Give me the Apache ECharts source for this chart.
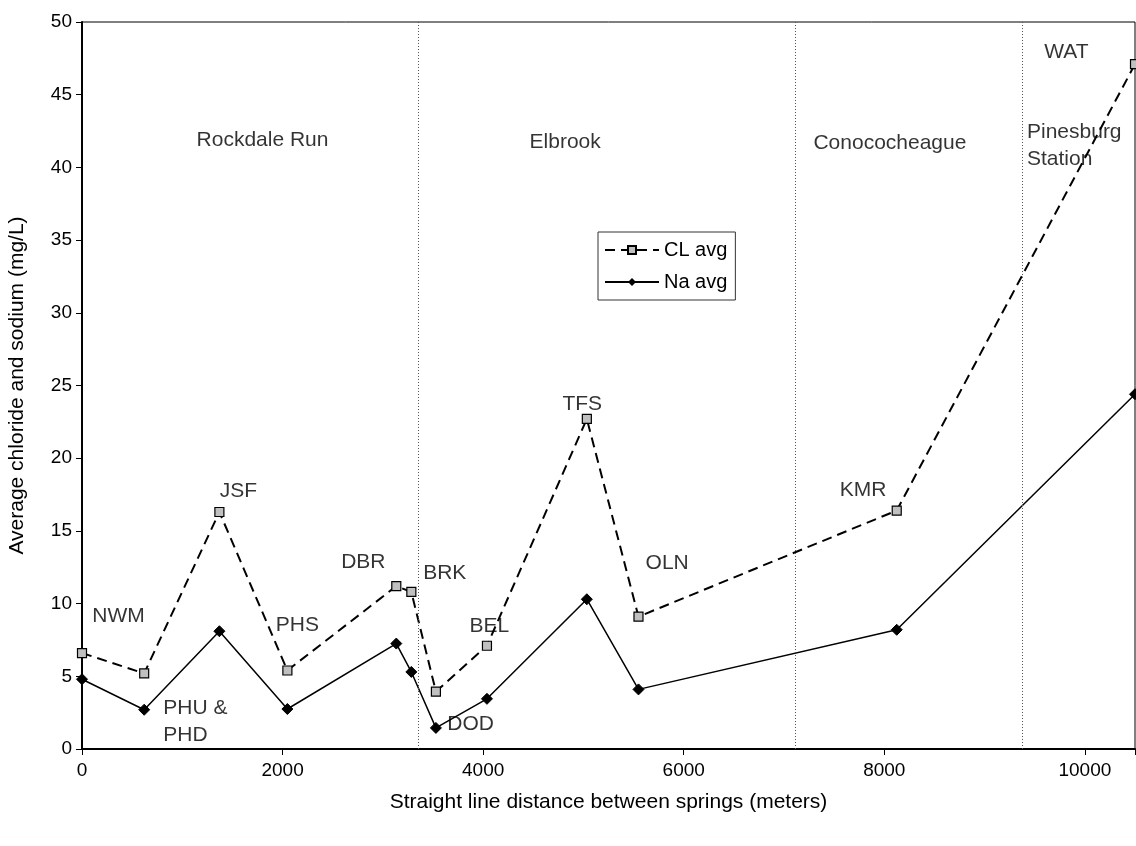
<!DOCTYPE html>
<html>
<head>
<meta charset="utf-8">
<script src="https://cdn.jsdelivr.net/npm/echarts@6/dist/echarts.min.js"></script>
<style>
html,body{margin:0;padding:0;background:#fff;}
#chart{width:1136px;height:846px;}
</style>
</head>
<body>
<div id="chart"></div>
<script>
// Spring distances (m) and averages (mg/L)
const springs = ['NWM','PHU','JSF','PHS','DBR','BRK','DOD','BEL','TFS','OLN','KMR','WAT'];
const distance = [0, 620, 1370, 2048, 3134, 3284, 3529, 4038, 5034, 5549, 8124, 10500];
const clAvg = [6.6, 5.2, 16.3, 5.4, 11.2, 10.8, 3.95, 7.1, 22.7, 9.1, 16.4, 47.1];
const naAvg = [4.8, 2.7, 8.1, 2.75, 7.25, 5.3, 1.45, 3.45, 10.3, 4.1, 8.2, 24.4];

// Formation boundaries (m)
const boundaries = [3353, 7110, 9372];

// Text annotations in data units: [x, y, text]
const centerLabels = [
  [365, 9.15, 'NWM'], [1560, 17.75, 'JSF'], [2147, 8.5, 'PHS'], [2805, 12.85, 'DBR'],
  [3617, 12.1, 'BRK'], [4061, 8.45, 'BEL'], [3876, 1.7, 'DOD'], [4988, 23.7, 'TFS'],
  [5835, 12.8, 'OLN'], [7789, 17.8, 'KMR'], [9816, 47.95, 'WAT'],
  [1800, 41.9, 'Rockdale Run'], [4818, 41.7, 'Elbrook'], [8056, 41.65, 'Conococheague']
];
const leftLabels = [
  [810, 1.85, 'PHU &\nPHD'], [9423, 41.5, 'Pinesburg\nStation']
];

const xTicks = { min: 0, max: 10500, interval: 2000 };
const yTicks = { min: 0, max: 50, interval: 5 };

const FONT = 'Liberation Sans, Arial, sans-serif';
const chart = echarts.init(document.getElementById('chart'));

chart.setOption({
  animation: false,
  backgroundColor: '#fff',
  textStyle: { fontFamily: FONT },
  grid: { left: 82, right: 1, top: 22, bottom: 97, show: true, borderColor: '#000', borderWidth: 1,
          containLabel: false, outerBoundsMode: 'none' },
  legend: {
    left: 598, top: 232, orient: 'vertical',
    data: ['CL avg', 'Na avg'],
    itemWidth: 54, itemHeight: 10, itemGap: 12,
    padding: [8, 8, 8, 6],
    borderColor: '#333', borderWidth: 1,
    textStyle: { fontFamily: FONT, fontSize: 20, color: '#000' }
  },
  xAxis: {
    type: 'value', min: xTicks.min, max: xTicks.max, interval: xTicks.interval,
    name: 'Straight line distance between springs (meters)',
    nameLocation: 'middle', nameGap: 43,
    nameTextStyle: { fontFamily: FONT, fontSize: 21, color: '#000' },
    axisLine: { show: true, onZero: false, lineStyle: { color: '#000', width: 2 } },
    axisTick: { show: true, length: 6, lineStyle: { color: '#000' } },
    axisLabel: {
      fontFamily: FONT, fontSize: 19, color: '#000', margin: 12, showMaxLabel: true,
      formatter: v => (v % xTicks.interval === 0 ? String(v) : '')
    },
    splitLine: { show: false }
  },
  yAxis: {
    type: 'value', min: yTicks.min, max: yTicks.max, interval: yTicks.interval,
    name: 'Average chloride and sodium (mg/L)',
    nameLocation: 'middle', nameGap: 54,
    nameTextStyle: { fontFamily: FONT, fontSize: 21, color: '#000' },
    axisLine: { show: true, lineStyle: { color: '#000', width: 2 } },
    axisTick: { show: true, length: 6, lineStyle: { color: '#000' } },
    axisLabel: { fontFamily: FONT, fontSize: 19, color: '#000', margin: 10 },
    splitLine: { show: false }
  },
  series: [
    {
      name: 'CL avg', type: 'line',
      data: distance.map((d, i) => [d, clAvg[i]]),
      symbol: 'rect', symbolSize: 9, showAllSymbol: true,
      lineStyle: { color: '#000', width: 2, type: [10, 6] },
      itemStyle: { color: '#c0c0c0', borderColor: '#000', borderWidth: 1.2 },
      z: 3,
      markLine: {
        silent: true, symbol: 'none', label: { show: false },
        lineStyle: { color: '#555', type: [1, 2], width: 1 },
        data: boundaries.map(b => ({ xAxis: b }))
      }
    },
    {
      name: 'Na avg', type: 'line',
      data: distance.map((d, i) => [d, naAvg[i]]),
      symbol: 'diamond', symbolSize: 11, showAllSymbol: true,
      lineStyle: { color: '#000', width: 1.5, type: 'solid' },
      itemStyle: { color: '#000', borderColor: '#000' },
      z: 3
    },
    {
      name: 'labels-c', type: 'scatter', symbolSize: 0, silent: true,
      data: centerLabels.map(a => ({ value: [a[0], a[1]], label: { formatter: a[2] } })),
      label: { show: true, position: [0, 0], align: 'center', verticalAlign: 'middle', fontFamily: FONT, fontSize: 21, color: '#000' },
      z: 5
    },
    {
      name: 'labels-l', type: 'scatter', symbolSize: 0, silent: true,
      data: leftLabels.map(a => ({ value: [a[0], a[1]], label: { formatter: a[2] } })),
      label: { show: true, position: [0, 0], align: 'left', verticalAlign: 'middle', lineHeight: 27, fontFamily: FONT, fontSize: 21, color: '#000' },
      z: 5
    }
  ]
});
</script>
</body>
</html>
